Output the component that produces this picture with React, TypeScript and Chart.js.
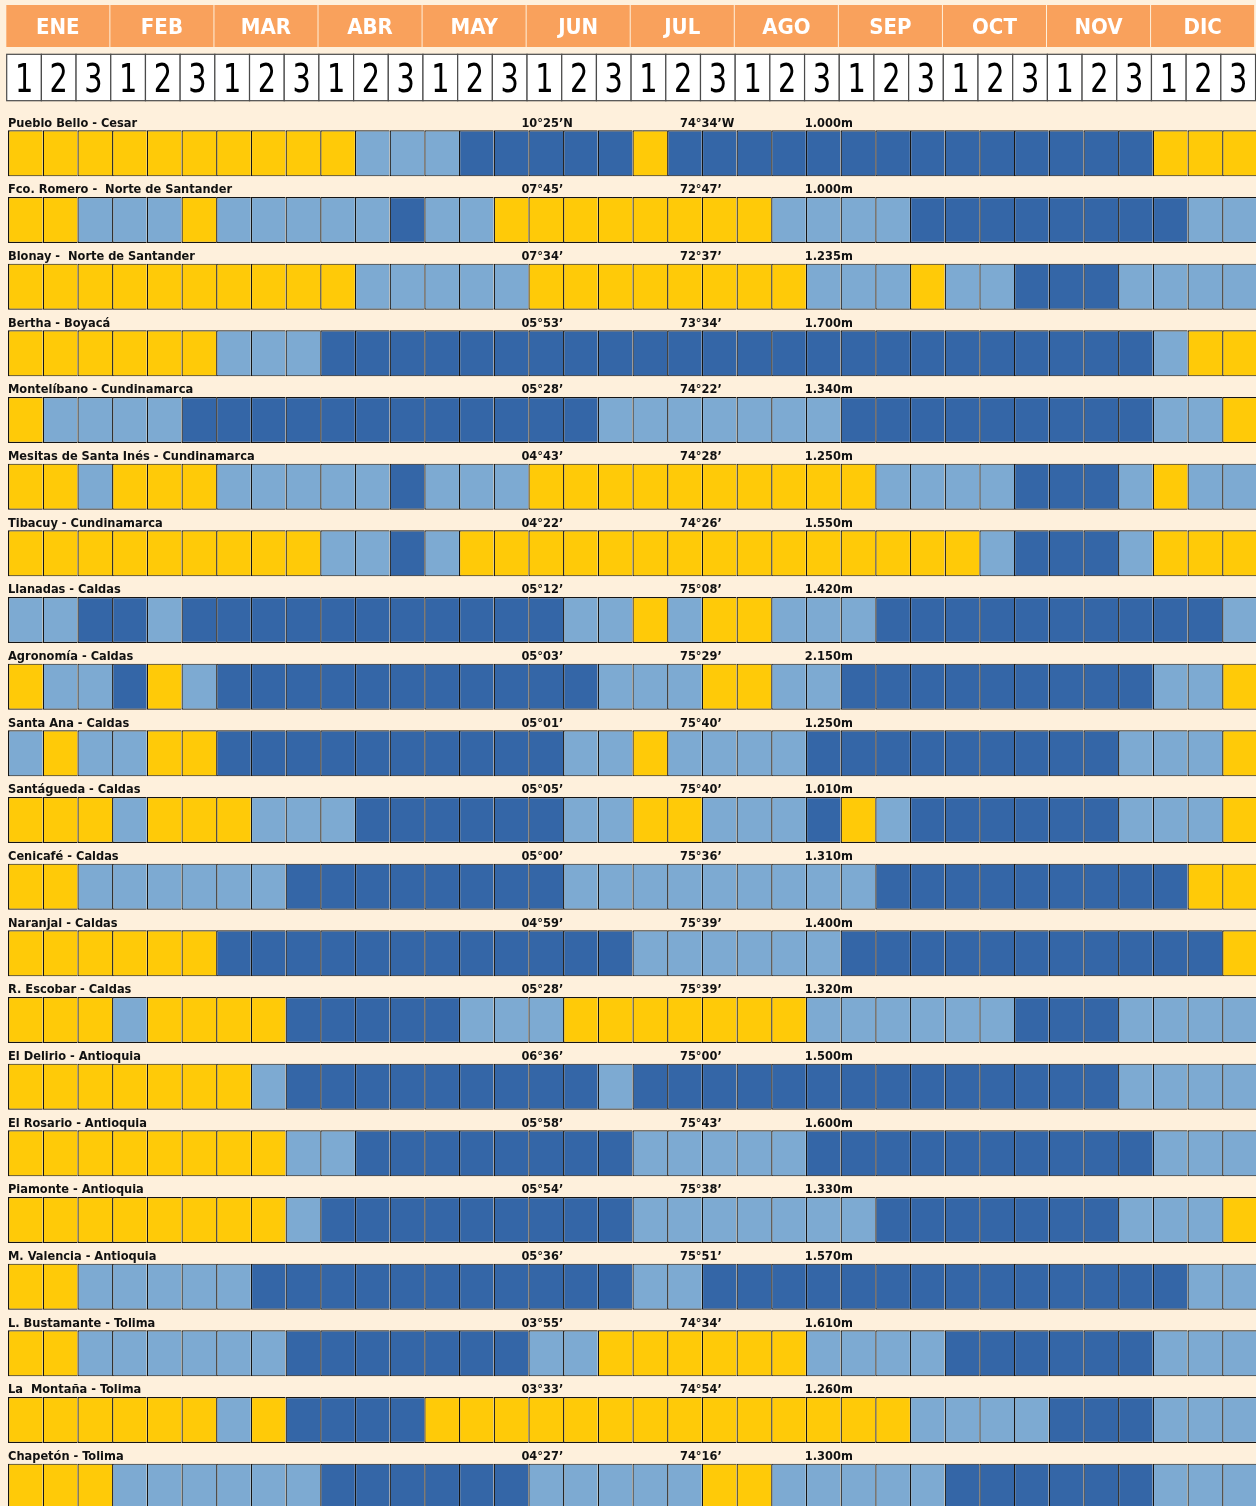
import React, { useEffect, useRef } from 'react';
import { Chart, registerables } from 'chart.js';

Chart.register(...registerables);

// ---- data ----
const months = ['ENE', 'FEB', 'MAR', 'ABR', 'MAY', 'JUN', 'JUL', 'AGO', 'SEP', 'OCT', 'NOV', 'DIC'];
const decadeLabels = ['1', '2', '3'];

const stations = [
  'Pueblo Bello - Cesar',
  'Fco. Romero -  Norte de Santander',
  'Blonay -  Norte de Santander',
  'Bertha - Boyacá',
  'Montelíbano - Cundinamarca',
  'Mesitas de Santa Inés - Cundinamarca',
  'Tibacuy - Cundinamarca',
  'Llanadas - Caldas',
  'Agronomía - Caldas',
  'Santa Ana - Caldas',
  'Santágueda - Caldas',
  'Cenicafé - Caldas',
  'Naranjal - Caldas',
  'R. Escobar - Caldas',
  'El Delirio - Antioquia',
  'El Rosario - Antioquia',
  'Piamonte - Antioquia',
  'M. Valencia - Antioquia',
  'L. Bustamante - Tolima',
  'La  Montaña - Tolima',
  'Chapetón - Tolima',
];

const latitudes = [
  '10°25’N', '07°45’', '07°34’', '05°53’', '05°28’', '04°43’', '04°22’',
  '05°12’', '05°03’', '05°01’', '05°05’', '05°00’', '04°59’', '05°28’',
  '06°36’', '05°58’', '05°54’', '05°36’', '03°55’', '03°33’', '04°27’',
];

const longitudes = [
  '74°34’W', '72°47’', '72°37’', '73°34’', '74°22’', '74°28’', '74°26’',
  '75°08’', '75°29’', '75°40’', '75°40’', '75°36’', '75°39’', '75°39’',
  '75°00’', '75°43’', '75°38’', '75°51’', '74°34’', '74°54’', '74°16’',
];

const altitudes = [
  '1.000m', '1.000m', '1.235m', '1.700m', '1.340m', '1.250m', '1.550m',
  '1.420m', '2.150m', '1.250m', '1.010m', '1.310m', '1.400m', '1.320m',
  '1.500m', '1.600m', '1.330m', '1.570m', '1.610m', '1.260m', '1.300m',
];

// one code per decade (36 per station): 0 = yellow, 1 = light blue, 2 = dark blue
const rowCodes = [
  '0000000000 111 22222 0 22222222222222 000',
  '00 111 0 11111 2 11 00000000 1111 22222222 11',
  '0000000000 11111 00000000 111 0 11 222 1111',
  '000000 111 222222222222222222222222 1 00',
  '0 1111 222222222222 1111111 222222222 11 0',
  '00 1 000 11111 2 111 0000000000 1111 222 1 0 11',
  '000000000 11 2 1 000000000000000 1 222 1 000',
  '11 22 1 22222222222 11 0 1 00 111 2222222222 1',
  '0 11 2 0 1 22222222222 111 00 11 222222222 11 0',
  '1 0 11 00 2222222222 11 0 1111 222222222 111 0',
  '000 1 000 111 222222 11 00 111 2 0 1 222222 111 0',
  '00 111111 22222222 111111111 222222222 00',
  '000000 222222222222 111111 22222222222 0',
  '000 1 0000 22222 111 0000000 111111 222 1111',
  '0000000 1 222222222 1 22222222222222 1111',
  '00000000 11 22222222 11111 2222222222 111',
  '00000000 1 222222222 1111111 2222222 111 0',
  '00 11111 22222222222 11 22222222222222 11',
  '00 111111 2222222 11 000000 1111 222222 111',
  '000000 1 0 2222 00000000000000 1111 222 111',
  '000 111111 222222 11111 00 11111 222222 111',
];

// ---- styles ----
const BG = '#FEF0DC';
const ORANGE = '#F9A15C';
const palette = ['#FFCA08', '#7DAAD2', '#3466A7'];
const CELL_BORDER = '#151515';
const FONT_FAMILY = "'DejaVu Sans Condensed', 'DejaVu Sans', sans-serif";

const codes: number[][] = rowCodes.map((s) => s.replace(/\s+/g, '').split('').map(Number));
const decadeCount = months.length * decadeLabels.length;

export default function App() {
  const canvasRef = useRef<HTMLCanvasElement | null>(null);

  useEffect(() => {
    document.body.style.overflow = 'hidden';
    const canvas = canvasRef.current;
    if (!canvas) return;

    const datasets = Array.from({ length: decadeCount }, (_, d) => ({
      label: `${months[Math.floor(d / 3)]} ${decadeLabels[d % 3]}`,
      data: stations.map(() => [d, d + 1] as [number, number]),
      backgroundColor: codes.map((row) => palette[row[d]]),
      borderColor: CELL_BORDER,
      borderWidth: { top: 1.2, bottom: 1.2, left: 1.3, right: 0 },
      borderSkipped: false as const,
      grouped: false,
      categoryPercentage: 0.69,
      barPercentage: 1,
      inflateAmount: 0,
    }));

    const drawPlugin = {
      id: 'gridDecor',
      beforeDraw(chart: any) {
        const ctx = chart.ctx;
        ctx.save();
        ctx.fillStyle = BG;
        ctx.fillRect(0, 0, chart.width, chart.height);
        ctx.restore();
      },
      afterDraw(chart: any) {
        const ctx: CanvasRenderingContext2D = chart.ctx;
        const xs = chart.scales.x;
        ctx.save();

        // month header
        months.forEach((m, i) => {
          const x0 = xs.getPixelForValue(i * 3) - 1.7;
          const x1 = xs.getPixelForValue(i * 3 + 3) - 2.7;
          ctx.fillStyle = ORANGE;
          ctx.fillRect(x0, 5, x1 - x0, 42);
          ctx.fillStyle = '#FFFFFF';
          ctx.font = `bold 22px ${FONT_FAMILY}`;
          ctx.textAlign = 'center';
          ctx.textBaseline = 'alphabetic';
          ctx.fillText(m, (x0 + x1) / 2, 34.3);
        });

        // decade header
        for (let d = 0; d < decadeCount; d++) {
          const x0 = xs.getPixelForValue(d) - 1.3;
          const x1 = xs.getPixelForValue(d + 1) - 1.3;
          ctx.fillStyle = '#FFFFFF';
          ctx.fillRect(x0, 54.3, x1 - x0, 46.4);
          ctx.strokeStyle = '#4A4A4A';
          ctx.lineWidth = 1.2;
          ctx.strokeRect(x0, 54.3, x1 - x0, 46.4);
          ctx.save();
          ctx.translate((x0 + x1) / 2, 91.7);
          ctx.scale(1, 1.2);
          ctx.fillStyle = '#000000';
          ctx.font = `32px ${FONT_FAMILY}`;
          ctx.textAlign = 'center';
          ctx.textBaseline = 'alphabetic';
          ctx.fillText(decadeLabels[d % 3], 0, 0);
          ctx.restore();
        }

        // station labels
        const meta = chart.getDatasetMeta(0);
        ctx.fillStyle = '#111111';
        ctx.font = `bold 12.7px ${FONT_FAMILY}`;
        ctx.textAlign = 'left';
        ctx.textBaseline = 'alphabetic';
        stations.forEach((name, i) => {
          const el = meta.data[i];
          const top = el.y - el.height / 2;
          const base = top - 3.7;
          ctx.fillText(name, 8, base);
          ctx.fillText(latitudes[i], xs.getPixelForValue(14.8), base);
          ctx.fillText(longitudes[i], xs.getPixelForValue(19.37), base);
          ctx.fillText(altitudes[i], xs.getPixelForValue(22.97), base);
        });
        ctx.restore();
      },
    };

    const chart = new Chart(canvas, {
      type: 'bar',
      data: { labels: stations, datasets: datasets as any },
      options: {
        indexAxis: 'y',
        responsive: false,
        animation: false,
        maintainAspectRatio: false,
        layout: { padding: { left: 8, right: 3.16, top: 120, bottom: 10 } },
        scales: {
          x: { type: 'linear', min: 0, max: decadeCount, display: false },
          y: { type: 'category', display: false },
        },
        plugins: {
          legend: { display: false },
          tooltip: { enabled: false },
          title: { display: false },
        },
      },
      plugins: [drawPlugin],
    });

    return () => chart.destroy();
  }, []);

  return (
    <div
      style={{
        position: 'absolute',
        left: 0,
        top: 0,
        width: 1256,
        height: 1506,
        overflow: 'hidden',
        background: BG,
      }}
    >
      <canvas ref={canvasRef} width={1260} height={1530} style={{ display: 'block' }} />
    </div>
  );
}
